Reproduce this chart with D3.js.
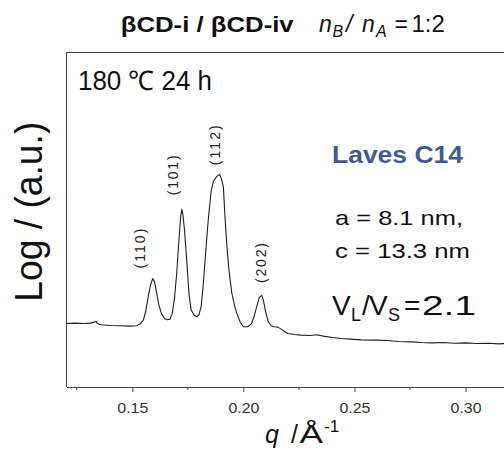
<!DOCTYPE html>
<html>
<head>
<meta charset="utf-8">
<script src="https://cdn.jsdelivr.net/npm/d3@7"></script>
<style>
  body { margin: 0; background: #fff; }
  svg { display: block; }
  text { font-family: "Liberation Sans", Arial, sans-serif; }
</style>
</head>
<body>
<svg id="chart" width="504" height="450"></svg>
<script>
// SAXS profile: scattering vector q (1/Å) and log intensity (arbitrary units)
const q = [
  0.1204, 0.1240, 0.1280, 0.1310, 0.1330, 0.1337, 0.1345, 0.1360, 0.1400, 0.1450,
  0.1490, 0.1520, 0.1535, 0.1550, 0.1560, 0.1572, 0.1582, 0.1592, 0.1600, 0.1610,
  0.1620, 0.1632, 0.1645, 0.1658, 0.1670, 0.1680, 0.1690, 0.1700, 0.1710, 0.1718,
  0.1723, 0.1728, 0.1735, 0.1745, 0.1755, 0.1765, 0.1778, 0.1790, 0.1800, 0.1810,
  0.1820, 0.1830, 0.1842, 0.1855, 0.1865, 0.1875, 0.1885, 0.1893, 0.1900, 0.1910,
  0.1918, 0.1925, 0.1935, 0.1948, 0.1960, 0.1970, 0.1985, 0.2000, 0.2020, 0.2035,
  0.2048, 0.2060, 0.2072, 0.2082, 0.2090, 0.2100, 0.2112, 0.2125, 0.2140, 0.2155,
  0.2170, 0.2185, 0.2200, 0.2230, 0.2260, 0.2300, 0.2330, 0.2360, 0.2400, 0.2440,
  0.2480, 0.2530, 0.2600, 0.2650, 0.2700, 0.2760, 0.2800, 0.2850, 0.2900, 0.2950,
  0.3000, 0.3050, 0.3100, 0.3150, 0.3180
];
const logI = [
  19.0, 19.1, 19.0, 19.1, 19.4, 19.6, 18.9, 18.6, 18.4, 18.3,
  18.2, 18.3, 18.8, 20.0, 22.5, 27.0, 30.5, 32.4, 31.5, 28.0,
  24.5, 21.8, 20.5, 20.1, 20.3, 22.0, 26.5, 34.0, 44.0, 51.0,
  53.1, 51.5, 47.0, 38.0, 28.0, 23.0, 21.5, 21.0, 21.6, 24.0,
  31.0, 40.0, 50.0, 58.5, 61.5, 62.5, 63.2, 63.5, 62.5, 59.8,
  50.0, 43.0, 35.0, 28.1, 24.5, 22.1, 19.5, 18.0, 18.0, 18.8,
  21.0, 24.0, 26.8, 27.4, 26.0, 22.5, 19.5, 18.3, 18.0, 17.9,
  17.3, 16.6, 16.0, 15.7, 15.5, 15.4, 15.6, 15.2, 14.8, 14.5,
  14.3, 14.1, 14.0, 13.9, 13.6, 13.5, 13.3, 13.2, 13.3, 13.1,
  13.2, 13.0, 13.1, 12.9, 13.0
];

// Axis ticks
const majorTicks = [0.15, 0.20, 0.25, 0.30];
const minorTicks = [0.125, 0.175, 0.225, 0.275];
const tickLabels = ["0.15", "0.20", "0.25", "0.30"];

// Miller indices of the Laves C14 reflections, anchored in data units
const peakLabels = ["(110)", "(101)", "(112)", "(202)"];
const peakLabelQ = [0.1559, 0.1704, 0.1896, 0.2103];
const peakLabelI = [35.4, 57.3, 66.3, 31.1];

const svg = d3.select("#chart");
const mLeft = 66.5, mRight = 506, mTop = 52.5, mBottom = 387;

const x = d3.scaleLinear().domain([0.1204, 0.3182]).range([mLeft, mRight]);
const y = d3.scaleLinear().domain([0, 100]).range([mBottom, mTop]);

// Frame: left and top edges
const frame = svg.append("g").attr("stroke", "#444").attr("stroke-width", 1).attr("fill", "none");
frame.append("path").attr("d", `M${mLeft},${mTop}H${mRight}`);
frame.append("path").attr("d", `M${mLeft},${mTop}V${mBottom}`);

// Bottom axis with major and minor ticks
const axis = d3.axisBottom(x)
  .tickValues(majorTicks)
  .tickSize(5)
  .tickSizeOuter(0)
  .tickFormat((d, i) => tickLabels[i]);
const gx = svg.append("g").attr("transform", `translate(0,${mBottom})`).call(axis);
gx.select(".domain").attr("stroke", "#444");
gx.selectAll(".tick line").attr("stroke", "#444");
gx.selectAll(".tick text")
  .attr("y", 26.3)
  .attr("dy", null)
  .attr("fill", "#333")
  .attr("textLength", 31)
  .attr("lengthAdjust", "spacingAndGlyphs")
  .style("font-size", "14.5px")
  .style("font-family", "'Liberation Sans', Arial, sans-serif");
gx.selectAll(".minor")
  .data(minorTicks)
  .join("line")
  .attr("class", "minor")
  .attr("x1", d => x(d)).attr("x2", d => x(d))
  .attr("y1", 0).attr("y2", 3)
  .attr("stroke", "#444");

// Scattering curve
const pts = q.map((d, i) => [d, logI[i]]);
svg.append("clipPath").attr("id", "plot-clip")
  .append("rect").attr("x", mLeft).attr("y", mTop).attr("width", mRight - mLeft).attr("height", mBottom - mTop);
svg.append("path")
  .datum(pts)
  .attr("clip-path", "url(#plot-clip)")
  .attr("fill", "none")
  .attr("stroke", "#1e1e1e")
  .attr("stroke-width", 1.1)
  .attr("stroke-linejoin", "round")
  .attr("d", d3.line().x(d => x(d[0])).y(d => y(d[1])));

// Reflection labels, rotated
svg.selectAll(".peak")
  .data(peakLabels)
  .join("text")
  .attr("class", "peak")
  .attr("transform", (d, i) => `translate(${x(peakLabelQ[i])},${y(peakLabelI[i])}) rotate(-90)`)
  .attr("font-size", 14)
  .attr("fill", "#222")
  .attr("textLength", 40)
  .attr("lengthAdjust", "spacing")
  .text(d => d);

// Title
svg.append("text")
  .attr("x", 120.7).attr("y", 31.5)
  .attr("font-size", 22).attr("font-weight", "bold").attr("fill", "#111")
  .attr("textLength", 173).attr("lengthAdjust", "spacingAndGlyphs")
  .text("βCD-i / βCD-iv");
const t2 = svg.append("text").attr("y", 32).attr("font-size", 23).attr("fill", "#111");
t2.append("tspan").attr("x", 319).attr("font-style", "italic").text("n");
t2.append("tspan").attr("x", 332.5).attr("font-style", "italic").attr("font-size", 16).attr("dy", 5).text("B");
t2.append("tspan").attr("x", 346).attr("font-style", "italic").attr("dy", -5).text("/");
t2.append("tspan").attr("x", 362).attr("font-style", "italic").text("n");
t2.append("tspan").attr("x", 376).attr("font-style", "italic").attr("font-size", 16).attr("dy", 5).text("A");
t2.append("tspan").attr("x", 394.5).attr("dy", -5).text("=");
t2.append("tspan").attr("x", 411.5).attr("font-size", 24).text("1:2");

// Annealing condition
svg.append("text")
  .attr("x", 78).attr("y", 90)
  .attr("font-size", 27).attr("fill", "#111")
  .attr("textLength", 134).attr("lengthAdjust", "spacingAndGlyphs")
  .text("180 ℃ 24 h");

// Phase annotation
svg.append("text")
  .attr("x", 332).attr("y", 163)
  .attr("font-size", 23).attr("font-weight", "bold").attr("fill", "#3c5a99")
  .attr("textLength", 131).attr("lengthAdjust", "spacingAndGlyphs")
  .text("Laves C14");
svg.append("text")
  .attr("x", 335).attr("y", 225)
  .attr("font-size", 21).attr("fill", "#111")
  .attr("textLength", 128).attr("lengthAdjust", "spacingAndGlyphs")
  .text("a = 8.1 nm,");
svg.append("text")
  .attr("x", 335).attr("y", 258)
  .attr("font-size", 21).attr("fill", "#111")
  .attr("textLength", 135).attr("lengthAdjust", "spacingAndGlyphs")
  .text("c = 13.3 nm");
const vr = svg.append("text").attr("y", 315).attr("font-size", 28).attr("fill", "#111");
vr.append("tspan").attr("x", 332).text("V");
vr.append("tspan").attr("x", 351).attr("font-size", 18).attr("dy", 6).text("L");
vr.append("tspan").attr("x", 362).attr("dy", -6).text("/");
vr.append("tspan").attr("x", 369).text("V");
vr.append("tspan").attr("x", 388).attr("font-size", 18).attr("dy", 6).text("S");
vr.append("tspan").attr("x", 404).attr("dy", -6).text("=");
vr.append("tspan").attr("x", 422).attr("textLength", 54).attr("lengthAdjust", "spacingAndGlyphs").text("2.1");

// Axis titles
const xt = svg.append("text").attr("y", 443).attr("font-size", 25).attr("fill", "#111");
xt.append("tspan").attr("x", 265).attr("font-style", "italic").text("q");
xt.append("tspan").attr("x", 291).text("/");
xt.append("tspan").attr("x", 299.5).attr("textLength", 23.5).attr("lengthAdjust", "spacingAndGlyphs").text("Å");
xt.append("tspan").attr("x", 324).attr("font-size", 17).attr("dy", -11).text("-1");

svg.append("text")
  .attr("transform", "translate(42,211.7) rotate(-90)")
  .attr("text-anchor", "middle")
  .attr("font-size", 38).attr("fill", "#111")
  .attr("textLength", 180).attr("lengthAdjust", "spacingAndGlyphs")
  .text("Log / (a.u.)");
</script>
</body>
</html>
